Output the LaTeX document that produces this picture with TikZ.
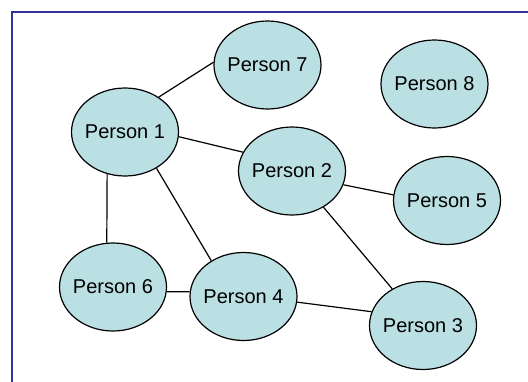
\documentclass[tikz,border=0pt]{standalone}
\usepackage{xcolor}
\definecolor{paleblue}{RGB}{187,224,227}
\definecolor{framecol}{RGB}{51,51,153}
\usepackage{fontspec}
\setmainfont{Liberation Sans}
\usepackage{tikz}
\usetikzlibrary{shapes.geometric}

\begin{document}
\begin{tikzpicture}[x=1pt, y=-1pt,
                person/.style={ellipse, draw=black, line width=1.2pt, fill=paleblue,
                    minimum width=107pt, minimum height=88pt, inner sep=-8pt,
                    font=\fontsize{20}{23}\selectfont},
                link/.style={draw=black, line width=1.2pt}]
                \useasboundingbox (0,0) rectangle (528,381);
                \draw [framecol, line width=2pt] (12,12) rectangle (560,420);
                \node [person] (person1) at (125,132) {Person 1};
                \node [person] (person2) at (292,171) {Person 2};
                \node [person] (person3) at (423,325.5) {Person 3};
                \node [person] (person4) at (243.5,296.5) {Person 4};
                \node [person] (person5) at (447,200.5) {Person 5};
                \node [person] (person6) at (113,287) {Person 6};
                \node [person] (person7) at (267.5,65) {Person 7};
                \node [person] (person8) at (434.5,84) {Person 8};
                \path [link] (person1.46) -- (person7.177);
                \path [link] (person1.-5) -- (person2.159);
                \path [link] (person1.-113) -- (person6.98);
                \path [link] (person1.-49) -- (person4.132);
                \path [link] (person6.-5) -- (person4.175);
                \path [link] (person4.-6) -- (person3.165);
                \path [link] (person2.-49) -- (person3.130);
                \path [link] (person2.-15) -- (person5.174);
            \end{tikzpicture}
\end{document}
